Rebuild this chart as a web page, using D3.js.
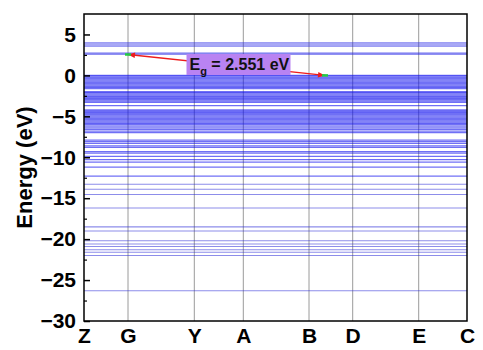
<!DOCTYPE html>
<html>
<head>
<meta charset="utf-8">
<script src="https://cdn.jsdelivr.net/npm/d3@7"></script>
<style>
  body { margin: 0; background: #fff; }
  text { font-family: Arial, "Liberation Sans", sans-serif; font-weight: bold; }
</style>
</head>
<body>
<div id="chart"></div>
<script>
// high-symmetry points along the k-path (cumulative path length, arbitrary units)
var kLabels = ["Z", "G", "Y", "A", "B", "D", "E", "C"];
var kDist = [0, 44, 110.3, 159.3, 225, 268.7, 334.7, 383];

// flat band energies (eV)
var conductionBands = [2.551, 2.65, 2.75, 3.55, 3.7, 3.85, 4.0];
var valenceBands = [0, -0.1, -0.25, -0.4, -0.55, -0.7, -0.85, -1.0, -1.15, -1.3, -1.45, -1.6,
  -2.0, -2.1, -2.25, -2.4, -2.55, -2.7, -2.85, -3.0, -3.15, -3.3, -3.7,
  -4.2, -4.35, -4.5, -4.65, -4.8, -4.95, -5.1, -5.25, -5.4, -5.55, -5.7, -5.85, -6.0,
  -6.2, -6.4, -6.6, -6.8, -7.0,
  -7.9, -8.1, -8.3, -8.6, -8.8, -9.3, -9.5, -9.9, -10.3, -10.6, -11.2, -12.3];
var coreBands = [-13.3, -13.9, -14.55, -16.2, -18.5, -19.0, -20.2, -20.6, -20.9, -21.3, -21.6, -22.0, -26.3];

var yTicks = [5, 0, -5, -10, -15, -20, -25, -30];

// band gap: CBM at G, VBM between B and D
var cbm = {k: 44, e: 2.551};
var vbm = {k: 241, e: 0};
var gapLabel = "2.551 eV";

var margin = {top: 14, right: 16, bottom: 29, left: 84},
    width = 483 - margin.left - margin.right,
    height = 350 - margin.top - margin.bottom;

var svg = d3.select("#chart")
  .append("svg")
    .attr("width", 483)
    .attr("height", 350)
  .append("g")
    .attr("transform", "translate(" + margin.left + "," + margin.top + ")");

var x = d3.scaleLinear().domain([0, 383]).range([0, width]);
var y = d3.scaleLinear().domain([-30, 7.5]).range([height, 0]);

// vertical lines at high-symmetry points
svg.selectAll("line.kline")
  .data(kDist.slice(1, -1))
  .enter()
  .append("line")
    .attr("class", "kline")
    .attr("x1", function(d) { return x(d); })
    .attr("x2", function(d) { return x(d); })
    .attr("y1", 0)
    .attr("y2", height)
    .style("stroke", "#9a9a9a")
    .style("stroke-width", 1);

var line = d3.line()
  .x(function(d) { return x(d[0]); })
  .y(function(d) { return y(d[1]); });

function drawBands(levels, cls, color, opacity, w) {
  svg.selectAll("path." + cls)
    .data(levels)
    .enter()
    .append("path")
      .attr("class", cls)
      .attr("d", function(e) { return line(kDist.map(function(k) { return [k, e]; })); })
      .style("fill", "none")
      .style("stroke", color)
      .style("stroke-opacity", opacity)
      .style("stroke-width", w);
}
drawBands(conductionBands, "cb", "#2a2ae6", 0.45, 1.2);
drawBands(valenceBands, "vb", "#1010ee", 0.6, 1.3);
drawBands(coreBands, "core", "#3030d8", 0.55, 1.1);

// arrow markers
var defs = svg.append("defs");
defs.append("marker")
  .attr("id", "arrowhead")
  .attr("viewBox", "-10 -5 10 10")
  .attr("refX", 0)
  .attr("refY", 0)
  .attr("markerWidth", 9)
  .attr("markerHeight", 7)
  .attr("markerUnits", "userSpaceOnUse")
  .attr("orient", "auto-start-reverse")
  .append("path")
    .attr("d", "M-10,-4 L0,0 L-10,4 Z")
    .attr("fill", "#ee1c1c");

svg.append("line")
  .attr("x1", x(cbm.k)).attr("y1", y(cbm.e))
  .attr("x2", x(vbm.k)).attr("y2", y(vbm.e))
  .style("stroke", "#ee1c1c")
  .style("stroke-width", 1.3)
  .attr("marker-start", "url(#arrowhead)")
  .attr("marker-end", "url(#arrowhead)");

// green extremum dots
svg.selectAll("line.ext")
  .data([cbm, vbm])
  .enter()
  .append("line")
    .attr("class", "ext")
    .attr("x1", function(d) { return x(d.k) - 3; })
    .attr("x2", function(d) { return x(d.k) + 3; })
    .attr("y1", function(d) { return y(d.e); })
    .attr("y2", function(d) { return y(d.e); })
    .style("stroke", "#22cc44")
    .style("stroke-width", 2.5);

// gap label box
var lbl = svg.append("g").attr("transform", "translate(" + (186.5 - margin.left) + "," + (54 - margin.top) + ")");
lbl.append("rect")
  .attr("width", 104).attr("height", 21)
  .style("fill", "#b983f2");
var t = lbl.append("text")
  .attr("x", 3).attr("y", 16)
  .style("font-size", "16px")
  .style("fill", "#111");
t.append("tspan").text("E");
t.append("tspan").attr("dy", 5).style("font-size", "11px").text("g");
t.append("tspan").attr("dy", -5).text(" = " + gapLabel);

// frame
svg.append("rect")
  .attr("width", width).attr("height", height)
  .style("fill", "none")
  .style("stroke", "#000")
  .style("stroke-width", 1.5);

var axisFont = "Arial, 'Liberation Sans', sans-serif";

// y axis (inward ticks)
var yAxis = svg.append("g")
  .call(d3.axisLeft(y).tickValues(yTicks).tickSize(-6).tickPadding(8).tickFormat(function(d) { return d3.format("")(d).replace("-", "\u2212"); }));
yAxis.select(".domain").remove();
yAxis.selectAll("line").style("stroke", "#000").style("stroke-width", 1.5);
yAxis.selectAll("text").style("font-size", "21px").style("font-family", axisFont).style("font-weight", "bold").style("fill", "#000");

var minor = svg.append("g")
  .call(d3.axisLeft(y).tickValues(d3.range(-27.5, 7.5, 5)).tickSize(-3).tickFormat(""));
minor.select(".domain").remove();
minor.selectAll("line").style("stroke", "#000").style("stroke-width", 1.2);

// x axis labels
var xAxis = svg.append("g")
  .attr("transform", "translate(0," + height + ")")
  .call(d3.axisBottom(x).tickValues(kDist).tickSize(0).tickPadding(7).tickFormat(function(d, i) { return kLabels[i]; }));
xAxis.select(".domain").remove();
xAxis.selectAll("text").style("font-size", "21px").style("font-family", axisFont).style("font-weight", "bold").style("fill", "#000");

// y title
svg.append("text")
  .attr("transform", "rotate(-90)")
  .attr("x", -height / 2)
  .attr("y", -52)
  .attr("text-anchor", "middle")
  .style("font-size", "22px")
  .text("Energy (eV)");
</script>
</body>
</html>
